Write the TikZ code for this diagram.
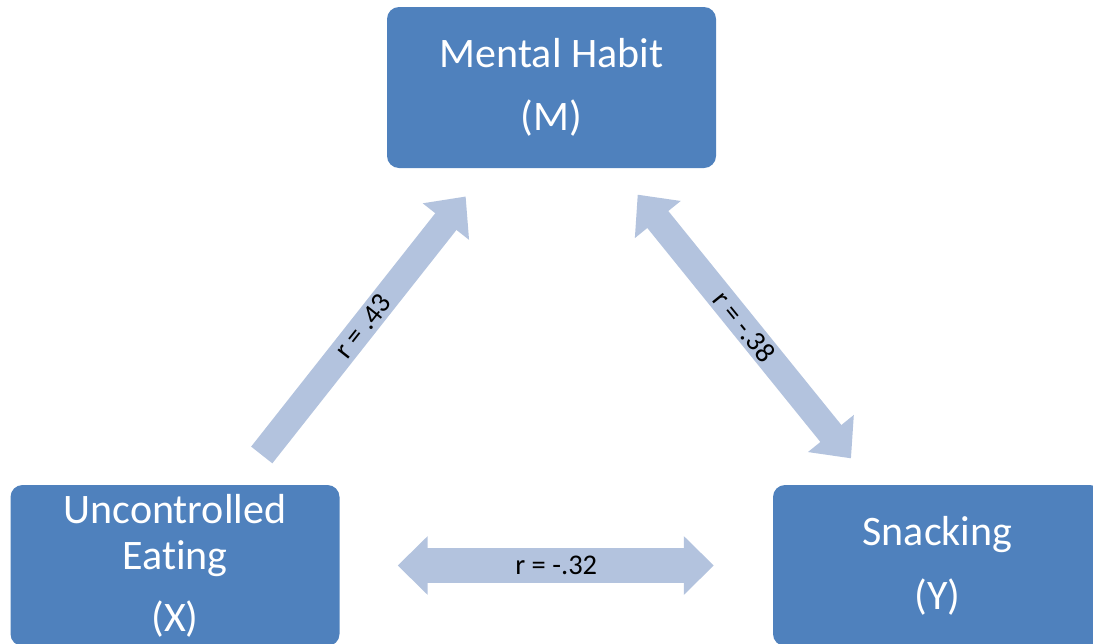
\documentclass[tikz,border=0pt]{standalone}
\usepackage{fontspec}
\setmainfont{Carlito}[Ligatures=NoCommon]
\usepackage{tikz}
\usetikzlibrary{arrows.meta,positioning}
\definecolor{boxblue}{HTML}{4F81BD}
\definecolor{linkblue}{HTML}{B3C3DE}

\begin{document}
\begin{tikzpicture}[x=1pt,y=-1pt,>={Triangle[width=57pt,length=32pt]}]
\tikzstyle{var}=[fill=boxblue,rounded corners=12pt,minimum width=329pt,minimum height=161pt,inner sep=0pt,align=center,text=white,font=\fontsize{42}{46}\selectfont]
\tikzstyle{link}=[draw=linkblue,line width=27pt]
\tikzstyle{rval}=[sloped,text=black,font=\fontsize{28.5}{31}\selectfont]
\clip (0,0) rectangle (1093,643);
\node[var] (mh) at (551.5,87.5) {Mental Habit\\[17pt](M)};
\node[var] (ue) at (175,565.5) {Uncontrolled\\Eating\\[16pt](X)};
\node[var] (sn) at (937.5,565.5) {Snacking\\[18pt](Y)};
\draw[link,->,shorten <=38pt,shorten >=36pt] (ue) -- (mh) node[midway,rval] {r = .43};
\draw[link,<->,shorten <=34pt,shorten >=34pt] (mh) -- (sn) node[midway,rval] {r = -.38};
\draw[link,line width=35pt,{Triangle[width=57pt,length=30pt]}-{Triangle[width=57pt,length=30pt]},shorten <=58pt,shorten >=59pt] (ue) -- (sn) node[midway,rval] {r = -.32};
\end{tikzpicture}
\end{document}
